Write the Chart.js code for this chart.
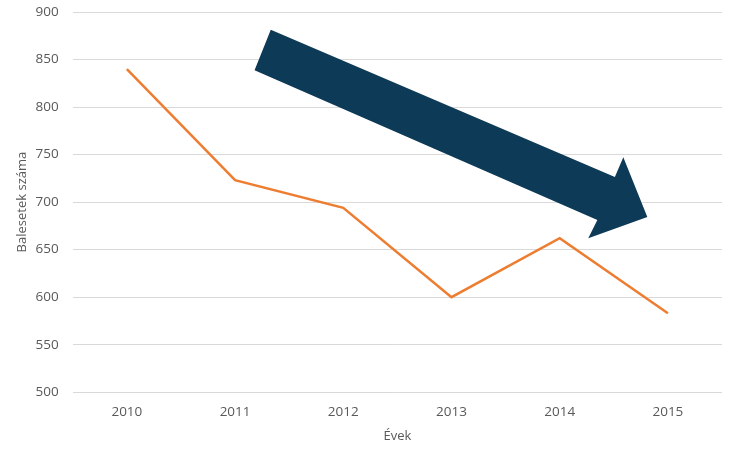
<!DOCTYPE html>
<html>
<head>
<meta charset="utf-8">
<script src="https://cdn.jsdelivr.net/npm/chart.js@4/dist/chart.umd.min.js"></script>
<style>
  html, body { margin: 0; padding: 0; background: #fff; }
  #wrap { width: 736px; height: 450px; }
</style>
</head>
<body>
<div id="wrap"><canvas id="chart"></canvas></div>
<script>
const years = ['2010', '2011', '2012', '2013', '2014', '2015'];
const accidents = [840, 723, 694, 600, 662, 583];
const yTicks = [500, 550, 600, 650, 700, 750, 800, 850, 900];

// arrow outline, as fractions of the plot area
const arrowShape = [
  [0.305, 0.047], [0.835, 0.434], [0.848, 0.382], [0.885, 0.539],
  [0.794, 0.595], [0.808, 0.547], [0.280, 0.153]
];

const arrowPlugin = {
  id: 'trendArrow',
  afterDatasetsDraw(chart) {
    const { ctx, chartArea: a } = chart;
    ctx.save();
    ctx.beginPath();
    arrowShape.forEach(([fx, fy], i) => {
      const x = a.left + fx * (a.right - a.left);
      const y = a.top + fy * (a.bottom - a.top);
      if (i === 0) ctx.moveTo(x, y); else ctx.lineTo(x, y);
    });
    ctx.closePath();
    ctx.fillStyle = '#0d3a56';
    ctx.fill();
    ctx.restore();
  }
};

const font = "'Open Sans', sans-serif";

new Chart(document.getElementById('chart'), {
  type: 'line',
  data: {
    labels: years,
    datasets: [{
      data: accidents,
      borderColor: '#ed7d31',
      borderWidth: 2.5,
      pointRadius: 0,
      tension: 0,
      fill: false
    }]
  },
  options: {
    responsive: true,
    maintainAspectRatio: false,
    animation: false,
    layout: { padding: { left: 14, right: 14, top: 12, bottom: 6 } },
    plugins: { legend: { display: false }, tooltip: { enabled: false } },
    scales: {
      x: {
        offset: true,
        grid: { display: false, drawTicks: false },
        border: { display: false },
        ticks: { color: '#595959', font: { family: font, size: 13.5 }, padding: 12 },
        title: { display: true, text: 'Évek', color: '#595959', font: { family: font, size: 13 }, padding: { top: -4, bottom: 0 } }
      },
      y: {
        min: 500,
        max: 900,
        afterBuildTicks(axis) { axis.ticks = yTicks.map(v => ({ value: v })); },
        afterFit(axis) { axis.paddingTop = 0; axis.paddingBottom = 0; },
        grid: { color: '#d9d9d9', drawTicks: false },
        border: { display: false },
        ticks: { color: '#595959', font: { family: font, size: 13.5 }, padding: 14 },
        title: { display: true, text: 'Balesetek száma', color: '#595959', font: { family: font, size: 13 }, padding: { top: 0, bottom: -8 } }
      }
    }
  },
  plugins: [arrowPlugin]
});
</script>
</body>
</html>
